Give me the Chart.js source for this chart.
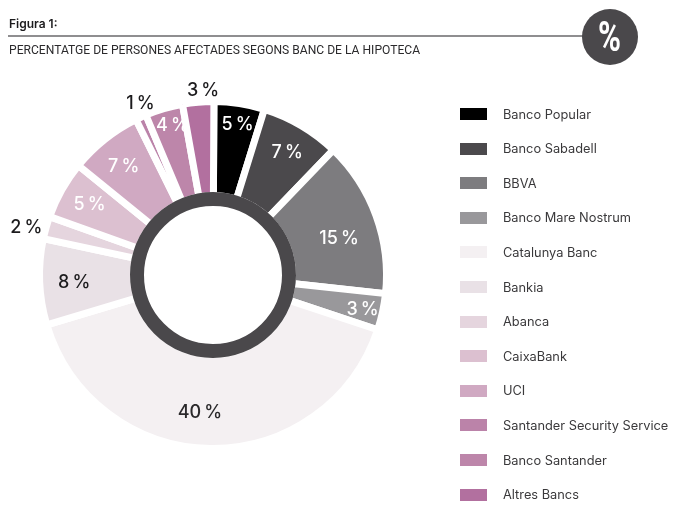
<!DOCTYPE html>
<html>
<head>
<meta charset="utf-8">
<title>Figura 1</title>
<script src="https://cdn.jsdelivr.net/npm/chart.js@4/dist/chart.umd.min.js"></script>
<style>
  body { margin: 0; background: #fff; width: 685px; height: 520px; position: relative; overflow: hidden; font-family: Inter, sans-serif; }
  #chart-wrap { position: absolute; left: 0; top: 0; width: 685px; height: 520px; }
  .figure-label { position: absolute; left: 9px; top: 16px; font-size: 12px; font-weight: 600; color: #1c1b1d; }
  .rule { position: absolute; left: 8px; top: 35px; width: 580px; height: 2px; background: #8f8e90; }
  .subtitle { position: absolute; left: 9px; top: 42px; font-family: Roboto, sans-serif; font-size: 13px; color: #2b2a2c; white-space: nowrap; transform: scaleX(0.93); transform-origin: left center; }
  .badge { position: absolute; left: 582px; top: 9px; width: 56px; height: 56px; border-radius: 50%; background: #4a484b; color: #fff; text-align: center; font: 700 42px/56px Roboto, sans-serif; }
  .badge span { display: inline-block; transform: scaleX(0.74); }
  .legend-row { position: absolute; left: 460px; height: 14px; display: flex; align-items: center; white-space: nowrap; }
  .legend-box { width: 27px; height: 12px; margin-right: 16px; }
  .legend-text { font-size: 12.8px; color: #3a393b; }
</style>
</head>
<body>
<div id="chart-wrap"><canvas id="bank-chart"></canvas></div>
<div class="figure-label">Figura 1:</div>
<div class="rule"></div>
<div class="subtitle">PERCENTATGE DE PERSONES AFECTADES SEGONS BANC DE LA HIPOTECA</div>
<div class="badge"><span>%</span></div>
<div id="legend"></div>

<script>
// Chart data, unrounded shares (labels show them rounded)
const banks = ['Banco Popular', 'Banco Sabadell', 'BBVA', 'Banco Mare Nostrum', 'Catalunya Banc', 'Bankia',
  'Abanca', 'CaixaBank', 'UCI', 'Santander Security Service', 'Banco Santander', 'Altres Bancs'];
const percentages = [4.7, 7.4, 14.5, 3.4, 40.2, 8.0, 2.1, 5.4, 6.8, 1.0, 3.5, 2.9];
const sliceColors = ['#000000', '#4b494c', '#7d7c7f', '#99989b', '#f4f0f2', '#e9e1e6',
  '#e5d5de', '#dcc0d0', '#d0a9c2', '#bb83a9', '#bd86aa', '#b2709f'];

// Label placement: distance from the centre, nudges and colour per slice
const labelRadius = [154, 144, 131, 152, 137, 140, 194, 144, 143, 189, 157, 186];
const labelNudgeX = [1, 1, 3, 1, -11, 1, 0, 2, 0, 6, 4, 6];
const labelNudgeY = [2, 2, 8, 2, 1, 2, 6, 0, 3, 0, 1, 1];
const labelColors = ['#fff', '#fff', '#fff', '#fff', '#2a292b', '#1c1b1d',
  '#1c1b1d', '#fff', '#fff', '#1c1b1d', '#fff', '#1c1b1d'];

const ringColor = '#4a484b';

// Draws the percentage on each slice
const sliceLabels = {
  id: 'sliceLabels',
  afterDatasetsDraw(chart) {
    const ctx = chart.ctx;
    const arcs = chart.getDatasetMeta(0).data;
    ctx.save();
    ctx.font = '500 18px Inter, sans-serif';
    ctx.textAlign = 'center';
    ctx.textBaseline = 'middle';
    arcs.forEach((arc, i) => {
      const angle = (arc.startAngle + arc.endAngle) / 2;
      const x = arc.x + Math.cos(angle) * labelRadius[i] + labelNudgeX[i];
      const y = arc.y + Math.sin(angle) * labelRadius[i] + labelNudgeY[i];
      ctx.fillStyle = labelColors[i];
      ctx.fillText(Math.round(percentages[i]) + '\u2009%', x, y);
    });
    ctx.restore();
  }
};

const chart = new Chart(document.getElementById('bank-chart').getContext('2d'), {
  type: 'doughnut',
  data: {
    labels: banks,
    datasets: [
      {
        data: percentages,
        backgroundColor: sliceColors,
        borderColor: '#ffffff',
        borderWidth: 7,
        weight: 94,
        order: 2
      },
      {
        // dark ring around the hole, drawn over the inner ends of the slices
        data: [100],
        backgroundColor: ringColor,
        borderColor: ringColor,
        borderWidth: 7,
        weight: 7,
        order: 1
      }
    ]
  },
  options: {
    responsive: true,
    maintainAspectRatio: false,
    animation: false,
    rotation: 0.3,
    cutout: 72.5,
    layout: { padding: { left: 36, top: 98, right: 295, bottom: 68 } },
    plugins: {
      legend: { display: false },
      tooltip: { enabled: false }
    }
  },
  plugins: [sliceLabels]
});

// Legend is plain html so the rows can sit on the reference spacing
const legend = document.getElementById('legend');
banks.forEach((name, i) => {
  const row = document.createElement('div');
  row.className = 'legend-row';
  row.style.top = (107 + i * 34.6) + 'px';
  row.innerHTML = '<div class="legend-box" style="background:' + sliceColors[i] + '"></div><span class="legend-text">' + name + '</span>';
  legend.appendChild(row);
});
</script>
</body>
</html>
